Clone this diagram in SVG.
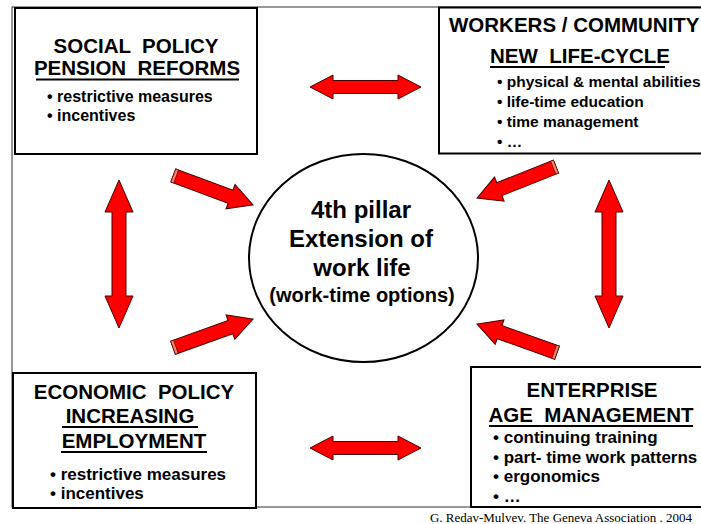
<svg xmlns="http://www.w3.org/2000/svg" width="701" height="524" viewBox="0 0 701 524" xml:space="preserve">
<style>
  .box { fill: #ffffff; stroke: #000000; stroke-width: 2; }
  .frame { fill: none; stroke: #333333; stroke-width: 1; }
  .t { font-family: "Liberation Sans", Arial, sans-serif; font-weight: bold; fill: #000000; white-space: pre; }
  .title { font-size: 20.5px; }
  .ul { stroke: #000000; stroke-width: 2; }
  .arr { fill: #ff0000; stroke: #4a0000; stroke-width: 1; stroke-linejoin: miter; }
  .bev { fill: #ff8066; stroke: #4a0000; stroke-width: 0.6; }
  .credit { font-family: "Liberation Serif", "Times New Roman", serif; font-size: 13px; fill: #000000; }
</style>
<defs>
  <g id="arrow-single">
    <path class="arr" d="M0,-7 L61,-7 L61,-13 L85,0 L61,13 L61,7 L0,7 Z"/>
    <rect class="bev" x="0" y="-7" width="3" height="14"/>
  </g>
</defs>
<rect width="701" height="524" fill="#ffffff"/>
<rect class="frame" x="12" y="7" width="720" height="500"/>
<g id="connectors">
  <path id="arrow-top" class="arr" d="M310,87 L333,75 L333,80.5 L398,80.5 L398,75 L421,87 L398,99 L398,93.5 L333,93.5 L333,99 Z"/>
  <path id="arrow-bottom" class="arr" d="M310,448 L333,436 L333,441.5 L398,441.5 L398,436 L421,448 L398,460 L398,454.5 L333,454.5 L333,460 Z"/>
  <path id="arrow-left" class="arr" d="M119,180 L133,212 L126,212 L126,296 L133,296 L119,328 L105,296 L112,296 L112,212 L105,212 Z"/>
  <path id="arrow-right" class="arr" d="M609,180 L623,212 L616,212 L616,296 L623,296 L609,328 L595,296 L602,296 L602,212 L595,212 Z"/>
  <use href="#arrow-single" transform="translate(173.3,175.5) rotate(20.3)"/>
  <use href="#arrow-single" transform="translate(556,166.6) rotate(158.3)"/>
  <use href="#arrow-single" transform="translate(173,347.7) rotate(-19.7)"/>
  <use href="#arrow-single" transform="translate(557,352.7) rotate(199.7)"/>
</g>
<g id="social-policy">
  <rect class="box" x="15" y="8" width="242" height="146"/>
  <text class="t title" x="136" y="53" text-anchor="middle">SOCIAL  POLICY</text>
  <text class="t title" x="137" y="75" text-anchor="middle">PENSION  REFORMS</text>
  <line class="ul" x1="36" y1="79.5" x2="239" y2="79.5"/>
  <text class="t" x="47" y="102" font-size="16">• restrictive measures</text>
  <text class="t" x="47" y="121" font-size="16">• incentives</text>
</g>
<g id="workers-community">
  <rect class="box" x="439" y="7.5" width="300" height="146"/>
  <text class="t title" x="449" y="32">WORKERS / COMMUNITY</text>
  <text class="t title" x="490" y="63">NEW  LIFE-CYCLE</text>
  <line class="ul" x1="490" y1="67" x2="665" y2="67"/>
  <text class="t" x="497" y="87" font-size="15.5">• physical &amp; mental abilities</text>
  <text class="t" x="497" y="107" font-size="15.5">• life-time education</text>
  <text class="t" x="497" y="127" font-size="15.5">• time management</text>
  <text class="t" x="497" y="147" font-size="15.5">• …</text>
</g>
<g id="economic-policy">
  <rect class="box" x="13" y="373" width="243" height="135"/>
  <text class="t title" x="134" y="399" text-anchor="middle">ECONOMIC  POLICY</text>
  <text class="t title" x="130" y="423" text-anchor="middle">INCREASING</text>
  <line class="ul" x1="62" y1="427" x2="198" y2="427"/>
  <text class="t title" x="134" y="448" text-anchor="middle">EMPLOYMENT</text>
  <line class="ul" x1="61" y1="452" x2="207" y2="452"/>
  <text class="t" x="50" y="480" font-size="17">• restrictive measures</text>
  <text class="t" x="50" y="499" font-size="17">• incentives</text>
</g>
<g id="enterprise">
  <rect class="box" x="471" y="367" width="260" height="140"/>
  <text class="t title" x="592" y="397" text-anchor="middle">ENTERPRISE</text>
  <text class="t title" x="591" y="422" text-anchor="middle">AGE  MANAGEMENT</text>
  <line class="ul" x1="489" y1="426" x2="693" y2="426"/>
  <text class="t" x="493" y="443" font-size="17">• continuing training</text>
  <text class="t" x="493" y="463" font-size="17">• part- time work patterns</text>
  <text class="t" x="493" y="482" font-size="17">• ergonomics</text>
  <text class="t" x="493" y="502" font-size="17">• …</text>
</g>
<g id="fourth-pillar">
  <ellipse cx="363.5" cy="258" rx="114.5" ry="104" fill="#ffffff" stroke="#000000" stroke-width="2"/>
  <text class="t" x="361" y="218" font-size="24" text-anchor="middle">4th pillar</text>
  <text class="t" x="361" y="247" font-size="24" text-anchor="middle">Extension of</text>
  <text class="t" x="362" y="276" font-size="24" text-anchor="middle">work life</text>
  <text class="t" x="362" y="302" font-size="20" text-anchor="middle">(work-time options)</text>
</g>
<text class="credit" x="692" y="522" text-anchor="end">G. Redav-Mulvev. The Geneva Association . 2004</text>
</svg>
